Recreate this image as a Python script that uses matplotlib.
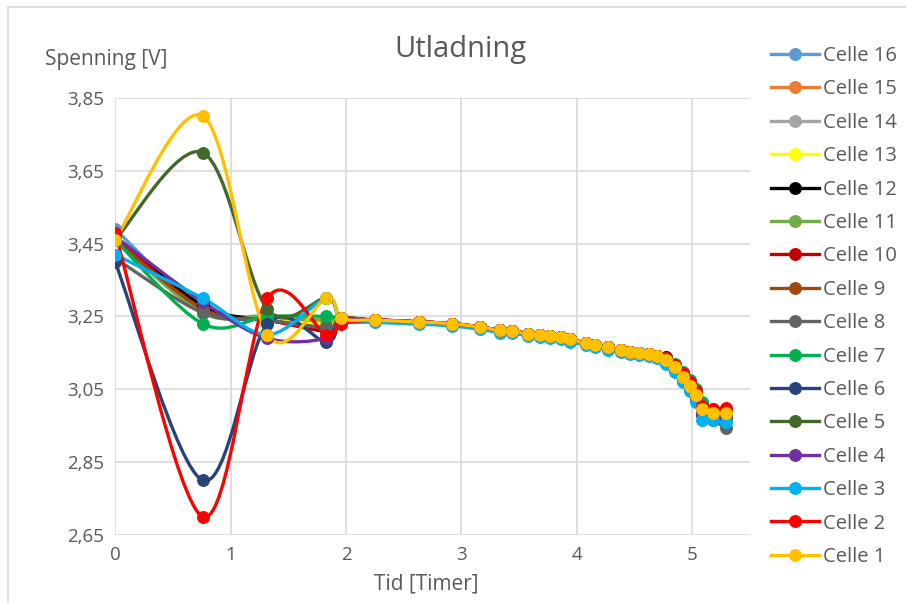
import matplotlib.pyplot as plt
from matplotlib.path import Path
from matplotlib.patches import PathPatch
from matplotlib.lines import Line2D

plt.rcParams['font.family'] = ['Open Sans', 'DejaVu Sans']

# Time of each measurement [hours]
TIME = [0, 0.76, 1.32, 1.83, 1.96,
        2.25, 2.63, 2.92, 3.16, 3.33, 3.44, 3.58, 3.68, 3.77, 3.86, 3.94,
        4.08, 4.16, 4.27, 4.38, 4.46, 4.54, 4.62, 4.69,
        4.77, 4.85, 4.92, 4.98, 5.03, 5.08, 5.18, 5.29]

CELLS = ["Celle 16", "Celle 15", "Celle 14", "Celle 13", "Celle 12", "Celle 11",
         "Celle 10", "Celle 9", "Celle 8", "Celle 7", "Celle 6", "Celle 5",
         "Celle 4", "Celle 3", "Celle 2", "Celle 1"]
COLORS = ["#5B9BD5", "#ED7D31", "#A5A5A5", "#FFFF00", "#000000", "#70AD47",
          "#C00000", "#9E480E", "#636363", "#00B050", "#264478", "#43682B",
          "#7030A0", "#00B0F0", "#FF0000", "#FFC000"]

# first five readings (t = 0 .. 1.96), one row per cell, same order as CELLS
HEAD = [
    [3.49, 3.27, 3.25, 3.23, 3.245],
    [3.47, 3.27, 3.24, 3.23, 3.245],
    [3.46, 3.27, 3.24, 3.23, 3.245],
    [3.46, 3.27, 3.24, 3.23, 3.245],
    [3.47, 3.28, 3.24, 3.22, 3.245],
    [3.46, 3.26, 3.25, 3.24, 3.245],
    [3.47, 3.27, 3.24, 3.21, 3.24],
    [3.46, 3.27, 3.24, 3.22, 3.245],
    [3.41, 3.26, 3.24, 3.22, 3.24],
    [3.46, 3.23, 3.25, 3.25, 3.245],
    [3.40, 2.80, 3.23, 3.18, 3.235],
    [3.46, 3.70, 3.27, 3.30, 3.245],
    [3.47, 3.29, 3.19, 3.19, 3.24],
    [3.42, 3.30, 3.20, 3.30, 3.24],
    [3.48, 2.70, 3.30, 3.20, 3.23],
    [3.46, 3.80, 3.20, 3.30, 3.245],
]

# flat middle part (t = 2.25 .. 4.69), practically equal for all cells
MID = [3.240, 3.235, 3.230, 3.221, 3.212, 3.211, 3.202, 3.199, 3.196, 3.193,
       3.187, 3.177, 3.172, 3.165, 3.158, 3.153, 3.150, 3.147, 3.142]
MID_CELLE3 = [3.234, 3.229, 3.224, 3.215, 3.206, 3.205, 3.196, 3.193, 3.190, 3.187,
              3.181, 3.171, 3.166, 3.159, 3.152, 3.147, 3.144, 3.141, 3.136]

# last readings (t = 4.77 .. 5.29)
TAIL = [
    [3.128, 3.105, 3.080, 3.055, 3.028, 2.985, 2.975, 2.970],
    [3.131, 3.110, 3.085, 3.060, 3.035, 2.995, 2.985, 2.980],
    [3.130, 3.108, 3.083, 3.058, 3.032, 2.990, 2.980, 2.975],
    [3.131, 3.110, 3.085, 3.060, 3.035, 2.995, 2.985, 2.980],
    [3.138, 3.118, 3.095, 3.068, 3.045, 3.010, 2.990, 2.985],
    [3.133, 3.112, 3.088, 3.062, 3.038, 2.995, 2.985, 2.980],
    [3.134, 3.115, 3.090, 3.065, 3.040, 3.000, 2.990, 2.990],
    [3.131, 3.110, 3.085, 3.060, 3.035, 2.995, 2.985, 2.980],
    [3.128, 3.105, 3.080, 3.052, 3.025, 2.985, 2.965, 2.945],
    [3.137, 3.120, 3.098, 3.075, 3.050, 3.015, 2.995, 2.990],
    [3.128, 3.105, 3.080, 3.052, 3.025, 2.980, 2.970, 2.965],
    [3.133, 3.112, 3.088, 3.062, 3.038, 2.998, 2.988, 2.985],
    [3.130, 3.108, 3.082, 3.055, 3.030, 2.985, 2.975, 2.970],
    [3.120, 3.098, 3.070, 3.045, 3.015, 2.965, 2.965, 2.960],
    [3.135, 3.118, 3.095, 3.070, 3.045, 3.005, 2.995, 3.000],
    [3.131, 3.110, 3.085, 3.060, 3.035, 2.995, 2.985, 2.985],
]

Y_TICKS = [2.65, 2.85, 3.05, 3.25, 3.45, 3.65, 3.85]
X_TICKS = [0, 1, 2, 3, 4, 5]
TEXT_COLOR = "#595959"
GRID_COLOR = "#D9D9D9"


def smooth_path(x, y):
    # Excel-like smoothed line: Catmull-Rom segments as cubic Bezier curves
    verts = [(x[0], y[0])]
    codes = [Path.MOVETO]
    n = len(x)
    for i in range(n - 1):
        p0 = (x[max(i - 1, 0)], y[max(i - 1, 0)])
        p1 = (x[i], y[i])
        p2 = (x[i + 1], y[i + 1])
        p3 = (x[min(i + 2, n - 1)], y[min(i + 2, n - 1)])
        c1 = (p1[0] + (p2[0] - p0[0]) / 6, p1[1] + (p2[1] - p0[1]) / 6)
        c2 = (p2[0] - (p3[0] - p1[0]) / 6, p2[1] - (p3[1] - p1[1]) / 6)
        verts += [c1, c2, p2]
        codes += [Path.CURVE4] * 3
    return Path(verts, codes)


fig = plt.figure(figsize=(9.06, 6.03), dpi=100)
ax = fig.add_axes([0.127, 0.1128, 0.701, 0.7247])

handles = []
for name, color, head, tail in zip(CELLS, COLORS, HEAD, TAIL):
    mid = MID_CELLE3 if name == "Celle 3" else MID
    values = head + mid + tail
    ax.add_patch(PathPatch(smooth_path(TIME, values), facecolor="none",
                           edgecolor=color, lw=2.4, zorder=3))
    ax.plot(TIME, values, "o", color=color, ms=8.3, zorder=4)
    handles.append(Line2D([], [], color=color, lw=2.4, marker="o", ms=8.3))

ax.set_xlim(0, 5.5)
ax.set_ylim(2.65, 3.85)
ax.set_xticks(X_TICKS)
ax.set_yticks(Y_TICKS)
ax.set_yticklabels([f"{v:.2f}".replace(".", ",") for v in Y_TICKS])
ax.grid(True, color=GRID_COLOR, lw=1.2, zorder=0)
for s in ax.spines.values():
    s.set_visible(False)
ax.tick_params(length=0, labelsize=13.5, colors=TEXT_COLOR, pad=8)

fig.text(0.508, 0.918, "Utladning", fontsize=21, color=TEXT_COLOR, ha="center", va="center")
fig.text(0.05, 0.901, "Spenning [V]", fontsize=15, color=TEXT_COLOR, ha="left", va="center")
fig.text(0.47, 0.031, "Tid [Timer]", fontsize=15, color=TEXT_COLOR, ha="center", va="center")

fig.legend(handles, CELLS, loc="upper left", bbox_to_anchor=(0.842, 0.937),
           frameon=False, fontsize=14.5, labelcolor=TEXT_COLOR,
           handlelength=2.4, handletextpad=0.2, labelspacing=0.665, borderaxespad=0)

# light chart-area border on the top and left
fig.add_artist(Line2D([0.009, 1], [0.988, 0.988], color=GRID_COLOR, lw=1.2))
fig.add_artist(Line2D([0.009, 0.009], [0, 0.988], color=GRID_COLOR, lw=1.2))

fig.savefig("out.png", dpi=100)
